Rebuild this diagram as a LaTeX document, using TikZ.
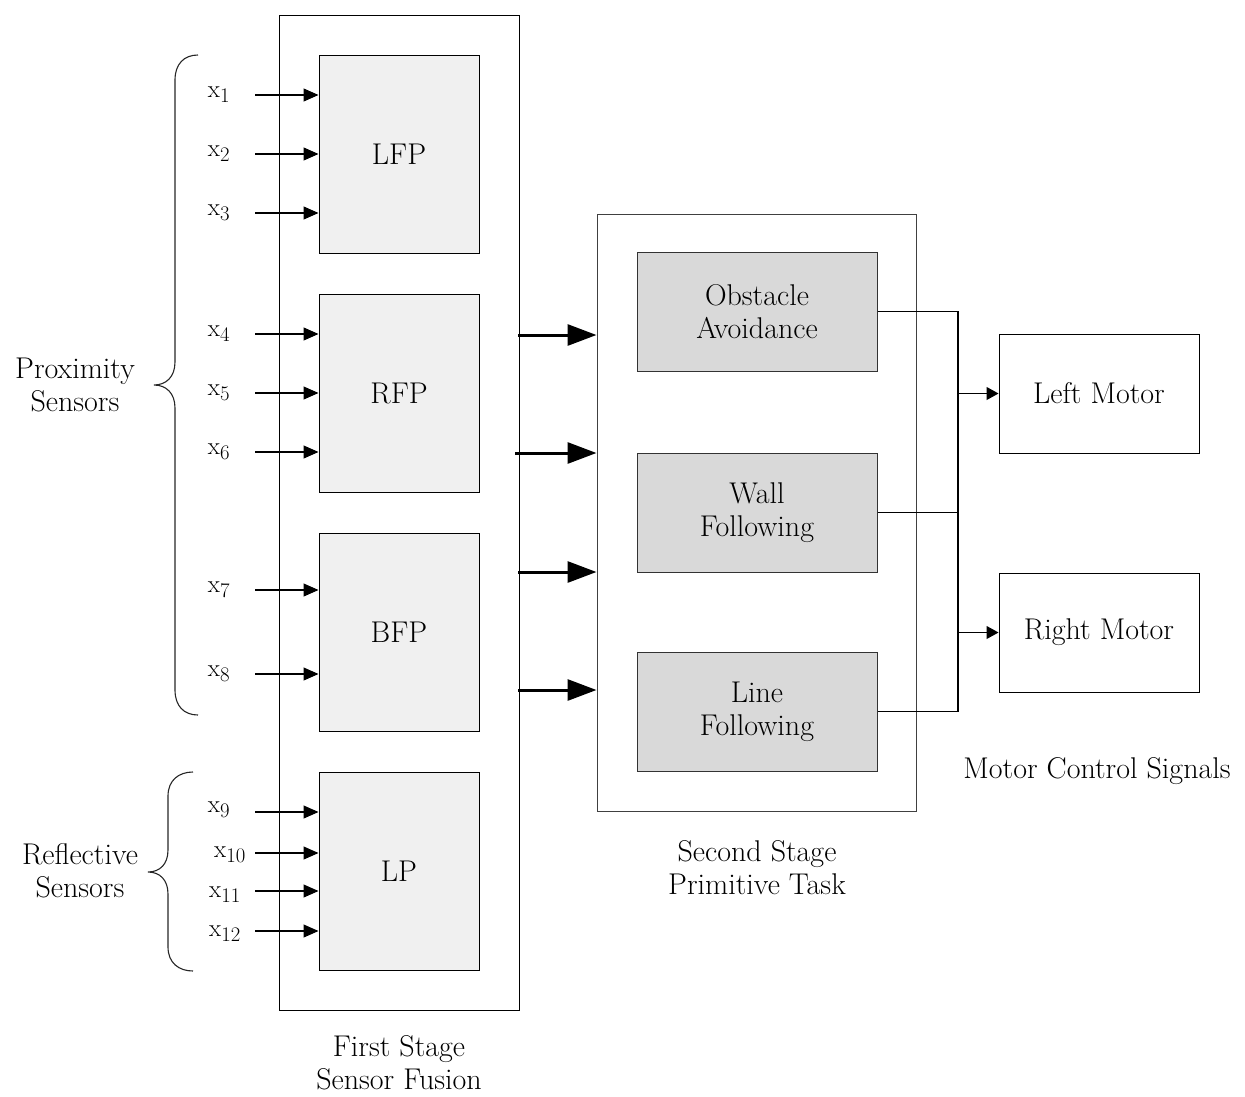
\documentclass[tikz,border=0pt]{standalone}
\usetikzlibrary{arrows.meta}
\begin{document}
\begin{tikzpicture}[x=1pt,y=-1pt,
  every node/.style={font=\fontsize{30}{33}\selectfont, inner sep=0pt},
  fusbox/.style={draw=black, line width=1pt, fill=black!6, minimum width=160pt, minimum height=198pt},
  taskbox/.style={draw=black!80, line width=1pt, fill=black!15, minimum width=240pt, minimum height=119pt, align=center},
  motorbox/.style={draw=black, line width=1pt, fill=white, minimum width=200pt, minimum height=119pt},
  stagebox/.style={draw=black, line width=1pt},
  caption/.style={align=center},
  inarrow/.style={line width=1.1pt, -{Triangle[length=15pt,width=13pt]}},
  bigarrow/.style={line width=3pt, -{Triangle[length=29pt,width=21pt]}},
  outarrow/.style={line width=1.1pt, -{Triangle[length=12pt,width=13pt]}},
  wire/.style={line width=1.1pt},
  bracepath/.style={line width=1.1pt, black!85}
]
\useasboundingbox (0,0) rectangle (1245,1096);

% stage frames
\node[stagebox, minimum width=240pt, minimum height=995pt] (stage1) at (399,512.5) {};
\node[stagebox, draw=black!75, minimum width=319pt, minimum height=597pt] (stage2) at (756.5,512.5) {};

% first stage blocks
\node[fusbox] (lfp) at (399,154) {LFP};
\node[fusbox] (rfp) at (399,393) {RFP};
\node[fusbox] (bfp) at (399,632) {BFP};
\node[fusbox] (lp)  at (399,871) {LP};

% inputs
\foreach \n/\y in {1/95,2/154,3/213,4/334,5/393,6/452,7/590,8/674}{
  \node (x\n) at (219,\y) {$\mathrm{x}_{\n}$};
  \coordinate (s\n) at (255,\y);
}
\node (x9)  at (219,810) {$\mathrm{x}_{9}$};
\node (x10) at (230,855) {$\mathrm{x}_{10}$};
\node (x11) at (225,895) {$\mathrm{x}_{11}$};
\node (x12) at (225,934) {$\mathrm{x}_{12}$};
\coordinate (s9) at (255,812);
\coordinate (s10) at (255,853);
\coordinate (s11) at (255,891);
\coordinate (s12) at (255,931);
\foreach \n in {1,2,3}{\draw[inarrow] (s\n) -- (s\n -| lfp.west);}
\foreach \n in {4,5,6}{\draw[inarrow] (s\n) -- (s\n -| rfp.west);}
\foreach \n in {7,8}{\draw[inarrow] (s\n) -- (s\n -| bfp.west);}
\foreach \n in {9,10,11,12}{\draw[inarrow] (s\n) -- (s\n -| lp.west);}

% braces
\draw[bracepath] (198,55) .. controls (184,55) and (175,64) .. (175,80) -- (175,362)
  .. controls (175,377) and (166,385) .. (154,385)
  .. controls (166,385) and (175,393) .. (175,408) -- (175,690)
  .. controls (175,706) and (184,715) .. (198,715);
\draw[bracepath] (193,772) .. controls (179,772) and (168,780) .. (168,796) -- (168,850)
  .. controls (168,864) and (160,872) .. (148,872)
  .. controls (160,872) and (168,880) .. (168,894) -- (168,947)
  .. controls (168,963) and (179,971) .. (193,971);
\node[caption] (prox) at (75,385) {Proximity\\Sensors};
\node[caption] (refl) at (80,871) {Reflective\\Sensors};

% second stage blocks
\node[taskbox] (oa) at (757,311.5) {Obstacle\\Avoidance};
\node[taskbox] (wf) at (757,512.5) {Wall\\Following};
\node[taskbox] (lf) at (757,711.5) {Line\\Following};

% fusion to task arrows
\coordinate (b1) at (518,335);
\coordinate (b2) at (515,453);
\coordinate (b3) at (518,572);
\coordinate (b4) at (518,690);
\foreach \n in {1,2,3,4}{\draw[bigarrow] (b\n) -- (b\n -| stage2.west);}

% motors
\node[motorbox] (lm) at (1099,393.5) {Left Motor};
\node[motorbox] (rm) at (1099,632.5) {Right Motor};

\coordinate (bustop) at (958,311.5);
\coordinate (busbot) at (958,711.5);
\draw[wire] (oa.east) -- (bustop) -- (busbot) -- (lf.east);
\draw[wire] (wf.east) -- (wf.east -| bustop);
\draw[outarrow] (lm.west -| bustop) -- (lm.west);
\draw[outarrow] (rm.west -| bustop) -- (rm.west);

% captions
\node[caption] (cap1) at (399,1063) {First Stage\\Sensor Fusion};
\node[caption] (cap2) at (757,868) {Second Stage\\Primitive Task};
\node[caption] (cap3) at (1097,771) {Motor Control Signals};
\end{tikzpicture}
\end{document}
